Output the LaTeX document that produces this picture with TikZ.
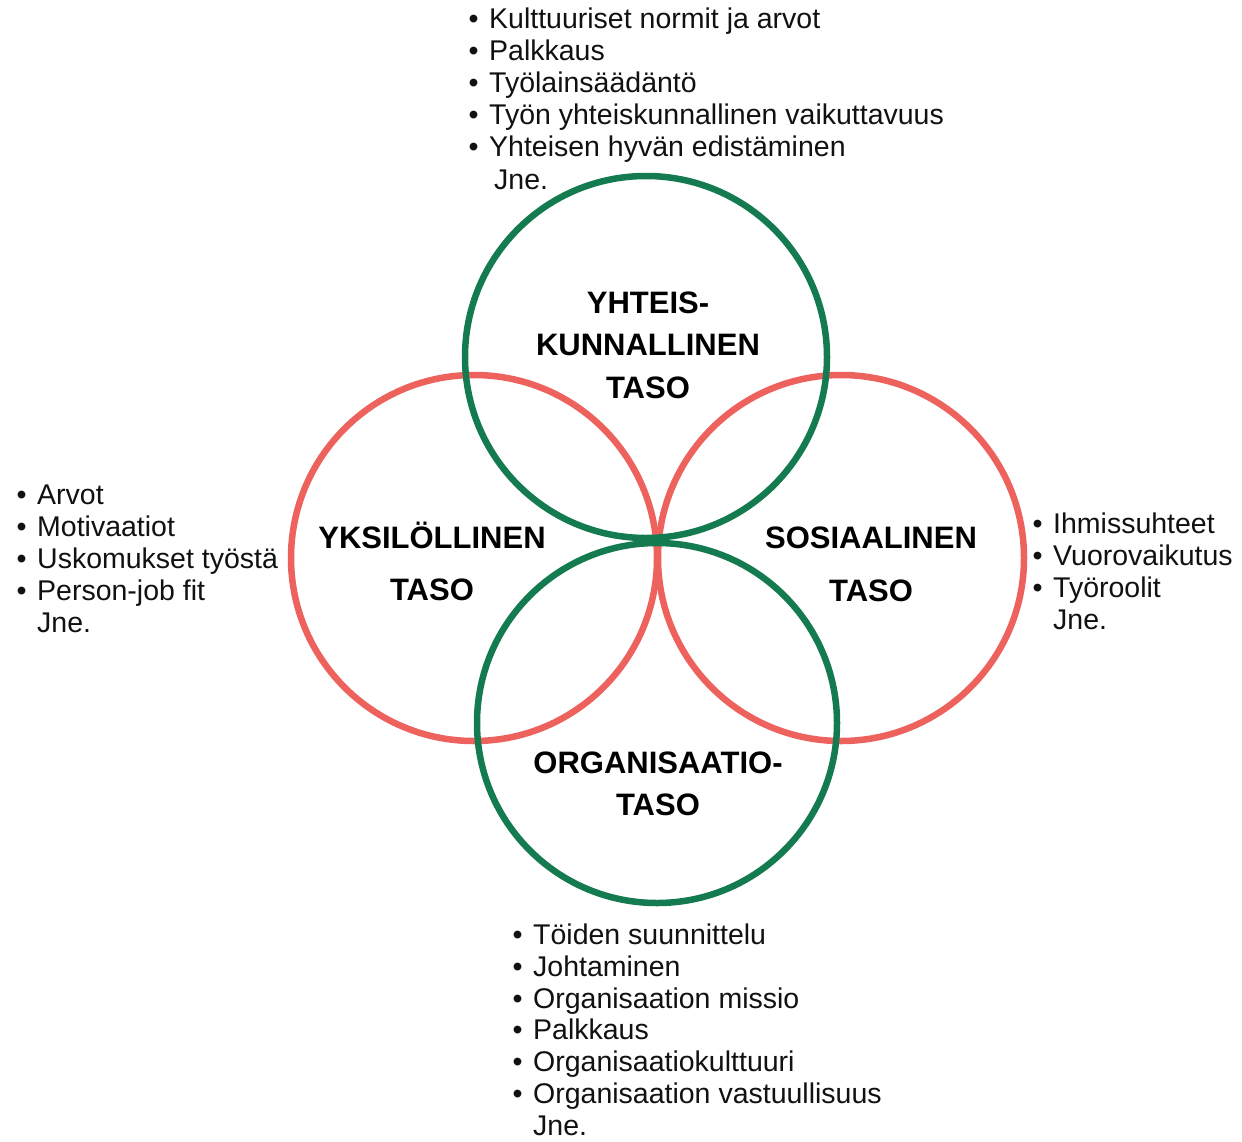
\documentclass[tikz,border=0pt]{standalone}
\usepackage{fontspec}
\setmainfont{Liberation Sans}
\definecolor{cgreen}{RGB}{20,122,80}
\definecolor{cred}{RGB}{238,98,94}
\definecolor{ctext}{RGB}{17,17,17}
\newcommand\bitem{\makebox[9pt][c]{•}\hspace{11pt}}
\newcommand\bindent{\hspace{20pt}}
\tikzset{
  ring/.style={line width=6.5pt},
  greenring/.style={ring, draw=cgreen},
  redring/.style={ring, draw=cred},
  listtext/.style={anchor=base west, inner sep=0pt, text=ctext,
    font=\fontsize{28.5}{32.2}\selectfont},
  levellabel/.style={anchor=base, inner sep=0pt, text=black},
}
\begin{document}
\begin{tikzpicture}[x=1pt,y=-1pt]
\useasboundingbox[fill=white] (0,0) rectangle (1242,1141);

% circles
\draw[redring] (474,558) circle[radius=183pt];
\draw[redring] (841,558) circle[radius=183pt];
\draw[greenring] (646,357) circle[radius=181pt];
\draw[greenring] (657,723) circle[radius=180pt];

% level labels
\node[levellabel] (top) at (648,313) {\bfseries\fontsize{31}{42.5}\selectfont
  \begin{tabular}[t]{@{}c@{}}YHTEIS-\\KUNNALLINEN\\TASO\end{tabular}};
\node[levellabel] (left) at (432,548) {\bfseries\fontsize{31}{52}\selectfont
  \begin{tabular}[t]{@{}c@{}}YKSILÖLLINEN\\TASO\end{tabular}};
\node[levellabel] (right) at (871,548) {\bfseries\fontsize{31}{53}\selectfont
  \begin{tabular}[t]{@{}c@{}}SOSIAALINEN\\TASO\end{tabular}};
\node[levellabel] (bottom) at (658,773) {\bfseries\fontsize{31}{42}\selectfont
  \begin{tabular}[t]{@{}c@{}}ORGANISAATIO-\\TASO\end{tabular}};

% lists
\node[listtext] (toplist) at (469,28) {\begin{tabular}[t]{@{}l@{}}
  \bitem Kulttuuriset normit ja arvot\\
  \bitem Palkkaus\\
  \bitem Työlainsäädäntö\\
  \bitem Työn yhteiskunnallinen vaikuttavuus\\
  \bitem Yhteisen hyvän edistäminen\\
  \hspace{25pt}Jne.
\end{tabular}};
\node[listtext] (leftlist) at (17,504) {\begin{tabular}[t]{@{}l@{}}
  \bitem Arvot\\
  \bitem Motivaatiot\\
  \bitem Uskomukset työstä\\
  \bitem Person-job fit\\
  \bindent Jne.
\end{tabular}};
\node[listtext] (rightlist) at (1033,533) {\begin{tabular}[t]{@{}l@{}}
  \bitem Ihmissuhteet\\
  \bitem Vuorovaikutus\\
  \bitem Työroolit\\
  \bindent Jne.
\end{tabular}};
\node[listtext, font=\fontsize{28.5}{31.8}\selectfont, text depth=191pt] (bottomlist) at (513,944.5) {\begin{tabular}[t]{@{}l@{}}
  \bitem Töiden suunnittelu\\
  \bitem Johtaminen\\
  \bitem Organisaation missio\\
  \bitem Palkkaus\\
  \bitem Organisaatiokulttuuri\\
  \bitem Organisaation vastuullisuus\\
  \bindent Jne.
\end{tabular}};
\end{tikzpicture}
\end{document}
